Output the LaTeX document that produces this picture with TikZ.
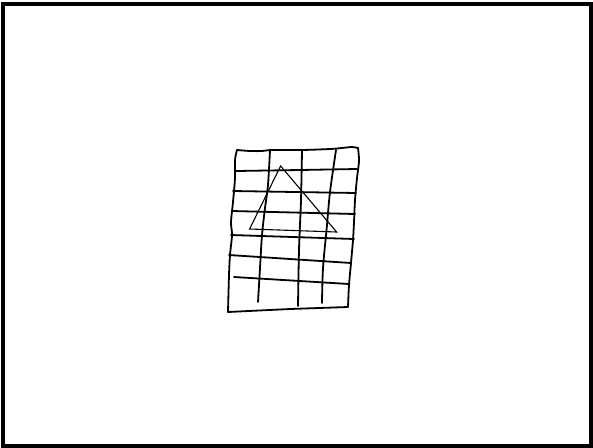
\documentclass[tikz,border=0pt]{standalone}
\usepackage{tikz}

\begin{document}
\begin{tikzpicture}[
  x=1pt, y=-1pt,
  frame/.style={draw=black, line width=4pt},
  stroke/.style={draw=black, line width=1.8pt, line cap=round, line join=round},
  tri/.style={draw=black, line width=1.1pt, line join=miter}
]
\useasboundingbox (0,0) rectangle (593,447);
\draw[frame] (3,3.5) rectangle (591,445.5);
% outline of the sheet
\draw[stroke] plot[smooth, tension=0.5] coordinates {(237,150) (250,151) (262,151) (272,150) (302,150) (330,149) (342,148) (352,147) (358,148)};
\draw[stroke] plot[smooth, tension=0.5] coordinates {(237,150) (235,160) (235,178) (233,202) (231,222) (232,235) (230,255) (229,275) (228,312)};
\draw[stroke] plot[smooth, tension=0.5] coordinates {(358,148) (359,161) (357,178) (355,200) (354,222) (353,240) (351,263) (349,285) (348,307)};
\draw[stroke] (228,312) -- (290,309) -- (348,307);
% columns
\draw[stroke] plot[smooth, tension=0.5] coordinates {(270,150) (268,185) (265,208) (262,235) (260,268) (258,302)};
\draw[stroke] plot[smooth, tension=0.5] coordinates {(302,150) (301,200) (299,250) (298,306)};
\draw[stroke] plot[smooth, tension=0.5] coordinates {(336,150) (330,192) (327,225) (323,268) (322,303)};
% rows
\draw[stroke] (236,171) -- (300,170) -- (357,169);
\draw[stroke] (233,191) -- (356,193);
\draw[stroke] (232,211) -- (355,214);
\draw[stroke] (231,235) -- (354,239);
\draw[stroke] (229,255) -- (351,263);
\draw[stroke] (234,277) -- (349,284);
% triangle
\draw[tri] (280.6,166) -- (336.6,232) -- (249.6,229) -- cycle;
\end{tikzpicture}
\end{document}
